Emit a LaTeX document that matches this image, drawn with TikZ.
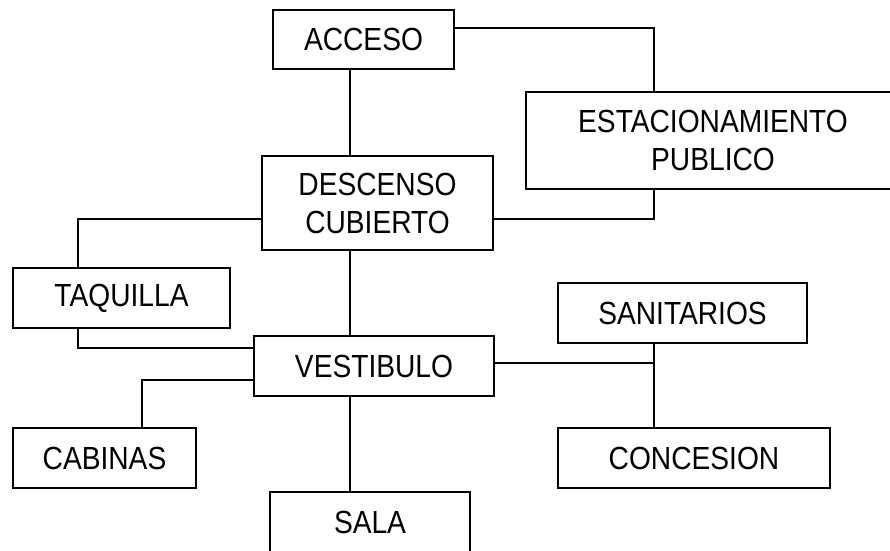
\documentclass[tikz,border=0pt]{standalone}
\usepackage{fontspec}
\setmainfont{Liberation Sans}[FakeStretch=0.88]
\usepackage{tikz}

\begin{document}
\begin{tikzpicture}[x=1pt,y=-1pt,line width=1.5pt,
  caja/.style={rectangle,draw,inner sep=0pt,align=center,font=\fontsize{32}{38}\selectfont}]
\clip (0,0) rectangle (890,550);
\fill[white] (0,0) rectangle (890,550);
\path (0,0)
(363.5,39.5) node(acceso) [caja,minimum width=181pt,minimum height=59pt] {ACCESO}
(713,140.5) node(estac) [caja,minimum width=374pt,minimum height=97pt] {ESTACIONAMIENTO\\PUBLICO}
(377.5,203) node(descenso) [caja,minimum width=231pt,minimum height=94pt] {DESCENSO\\CUBIERTO}
(121.5,298) node(taquilla) [caja,minimum width=217pt,minimum height=60pt] {TAQUILLA}
(374,366) node(vestibulo) [caja,minimum width=240pt,minimum height=60pt] {VESTIBULO}
(682.5,313) node(sanitarios) [caja,minimum width=249pt,minimum height=60pt] {SANITARIOS}
(104.5,458) node(cabinas) [caja,minimum width=183pt,minimum height=60pt] {CABINAS}
(694,458) node(concesion) [caja,minimum width=272pt,minimum height=60pt] {CONCESION}
(370,522) node(sala) [caja,minimum width=200pt,minimum height=60pt] {SALA};
% ejes de los conectores
\coordinate (ejeC) at (350,0);
\coordinate (ejeD) at (654,0);
\coordinate (ejeI) at (78,0);
\coordinate (ejeK) at (142,0);
\coordinate (cruce) at (654,363);
\draw (acceso.south -| ejeC) -- (descenso.north -| ejeC);
\draw ([yshift=11.5pt]acceso.east) -| (estac.north -| ejeD);
\draw (estac.south -| ejeD) |- ([yshift=-16pt]descenso.east);
\draw ([yshift=-16pt]descenso.west) -| (taquilla.north -| ejeI);
\draw (taquilla.south -| ejeI) |- ([yshift=18pt]vestibulo.west);
\draw (descenso.south -| ejeC) -- (vestibulo.north -| ejeC);
\draw ([yshift=-14pt]vestibulo.west) -| (cabinas.north -| ejeK);
\draw (vestibulo.east |- cruce) -- (cruce);
\draw (sanitarios.south -| ejeD) -- (concesion.north -| ejeD);
\draw (vestibulo.south -| ejeC) -- (sala.north -| ejeC);
\end{tikzpicture}
\end{document}
